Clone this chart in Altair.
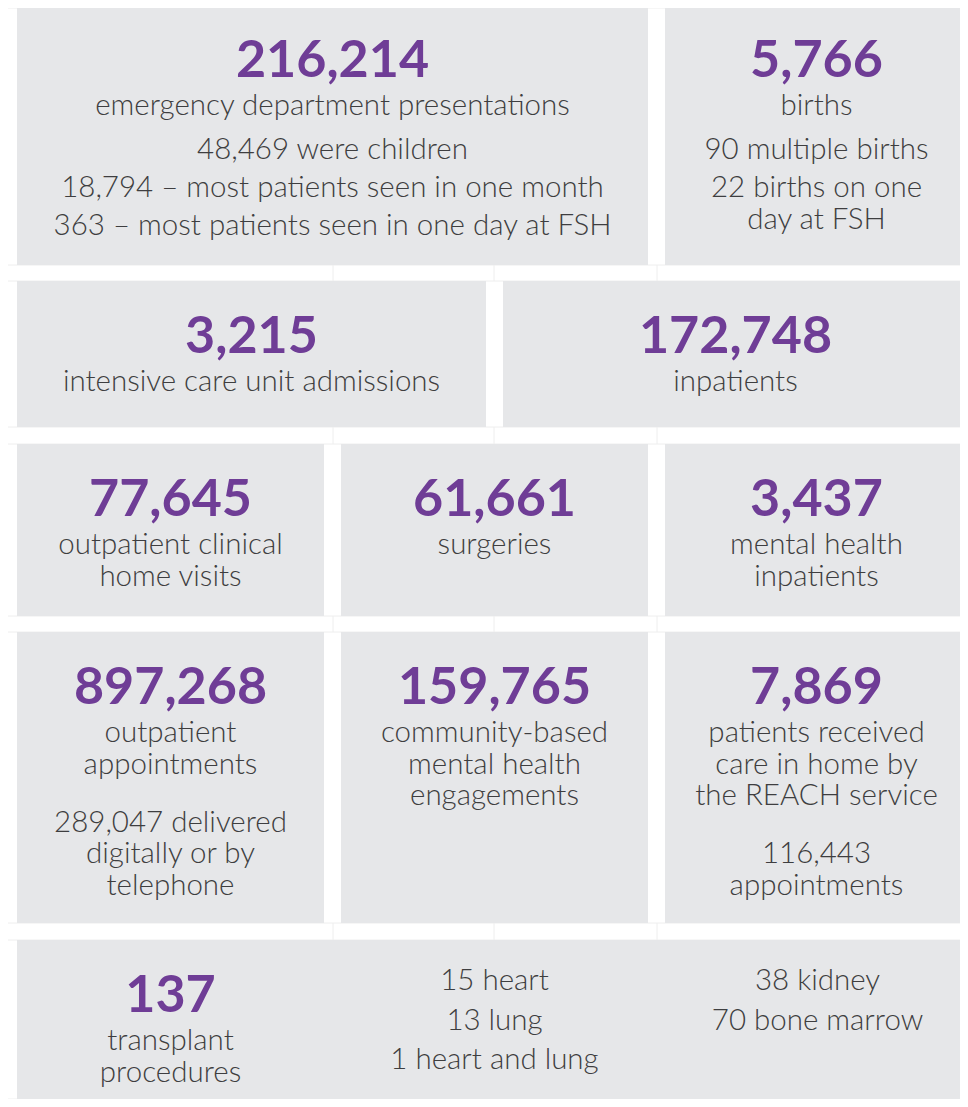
import altair as alt
import pandas as pd

# ---------------- content ----------------
card_numbers = ["216,214", "5,766", "3,215", "172,748", "77,645", "61,661",
                "3,437", "897,268", "159,765", "7,869", "137"]
card_labels = [
    ["emergency department presentations"],
    ["births"],
    ["intensive care unit admissions"],
    ["inpatients"],
    ["outpatient clinical", "home visits"],
    ["surgeries"],
    ["mental health", "inpatients"],
    ["outpatient", "appointments"],
    ["community-based", "mental health", "engagements"],
    ["patients received", "care in home by", "the REACH service"],
    ["transplant", "procedures"],
]
# each detail item is a list of wrapped lines
card_details = [
    [["48,469 were children"], ["18,794 \u2013 most patients seen in one month"],
     ["363 \u2013 most patients seen in one day at FSH"]],
    [["90 multiple births"], ["22 births on one", "day at FSH"]],
    [], [], [], [], [],
    [["289,047 delivered", "digitally or by", "telephone"]],
    [],
    [["116,443", "appointments"]],
    [],
]
transplant_breakdown = [["15 heart", "13 lung", "1 heart and lung"],
                        ["38 kidney", "70 bone marrow"]]

# ---------------- layout ----------------
W, H = 952, 1091
ORIGIN = 8
row_bounds = [(5, 265), (281, 427), (444, 616), (632, 923), (940, 1107)]
three = [(17, 324), (341, 648), (665, 968)]
row_columns = [[(17, 648), (665, 968)], [(17, 486), (503, 968)], three, three, [(17, 968)]]
card_slot = [(0, 0), (0, 1), (1, 0), (1, 1), (2, 0), (2, 1), (2, 2),
             (3, 0), (3, 1), (3, 2), (4, 0)]
transplant_text_cols = [170.5, 494.5, 817.5]
detail_gap = {0: 44, 3: 58}
NUM_OFF, LABEL_OFF, LABEL_STEP = 72, 110, 31.5
ITEM_STEP, WRAP_STEP = 38, 31.5
BREAK_OFF, BREAK_STEP = 50, 39.5
faint_x = [333, 494, 657]

rects, nums, texts, lines = [], [], [], []
for r, (top, bot) in enumerate(row_bounds):
    for (x0, x1) in row_columns[r]:
        rects.append(dict(x=x0, x2=x1, y=top, y2=bot))
    for yy in (top, bot):
        lines.append(dict(x=ORIGIN, x2=968, y=yy, y2=yy))
for r in range(len(row_bounds) - 1):
    g0, g1 = row_bounds[r][1], row_bounds[r + 1][0]
    for fx in faint_x:
        lines.append(dict(x=fx, x2=fx, y=g0, y2=g1))

for i, num in enumerate(card_numbers):
    r, c = card_slot[i]
    top = row_bounds[r][0]
    x0, x1 = row_columns[r][c]
    cx = (x0 + x1) / 2 if r != 4 else transplant_text_cols[0]
    nums.append(dict(x=cx, y=top + NUM_OFF, text=num))
    y = top + LABEL_OFF
    for k, lab in enumerate(card_labels[i]):
        y = top + LABEL_OFF + k * LABEL_STEP
        texts.append(dict(x=cx, y=y, text=lab))
    if card_details[i]:
        y += detail_gap.get(r, 44)
        for item in card_details[i]:
            for j, ln in enumerate(item):
                texts.append(dict(x=cx, y=y + j * WRAP_STEP, text=ln))
            y += (len(item) - 1) * WRAP_STEP + ITEM_STEP

top4 = row_bounds[4][0]
for col, items in enumerate(transplant_breakdown):
    for k, ln in enumerate(items):
        texts.append(dict(x=transplant_text_cols[col + 1], y=top4 + BREAK_OFF + k * BREAK_STEP, text=ln))

xs = alt.Scale(domain=[ORIGIN, ORIGIN + W], nice=False, zero=False, clamp=True)
ys = alt.Scale(domain=[ORIGIN, ORIGIN + H], nice=False, zero=False, reverse=True, clamp=True)

FILL = "#e6e7e9"
PURPLE = "#6f3d96"
GREY = "#3e3e40"
FONT = "Lato"

line_layer = alt.Chart(pd.DataFrame(lines)).mark_rule(color="#eeeeee", strokeWidth=1).encode(
    x=alt.X("x:Q", scale=xs, axis=None), x2="x2:Q",
    y=alt.Y("y:Q", scale=ys, axis=None), y2="y2:Q")
rect_layer = alt.Chart(pd.DataFrame(rects)).mark_rect(color=FILL).encode(
    x=alt.X("x:Q", scale=xs, axis=None), x2="x2:Q",
    y=alt.Y("y:Q", scale=ys, axis=None), y2="y2:Q")
num_layer = alt.Chart(pd.DataFrame(nums)).mark_text(
    font=FONT, fontWeight="bold", fontSize=52, color=PURPLE, align="center", baseline="alphabetic"
).encode(x=alt.X("x:Q", scale=xs, axis=None), y=alt.Y("y:Q", scale=ys, axis=None), text="text:N")
text_layer = alt.Chart(pd.DataFrame(texts)).mark_text(
    font=FONT, fontSize=29.5, fontWeight=300, color=GREY, align="center", baseline="alphabetic"
).encode(x=alt.X("x:Q", scale=xs, axis=None), y=alt.Y("y:Q", scale=ys, axis=None), text="text:N")

chart = alt.layer(line_layer, rect_layer, num_layer, text_layer).properties(
    width=W, height=H, padding=0, background="white",
    autosize=alt.AutoSizeParams(type="none")
).configure_view(stroke=None)

chart.save("out.html", embed_options={"renderer": "svg", "actions": False})
